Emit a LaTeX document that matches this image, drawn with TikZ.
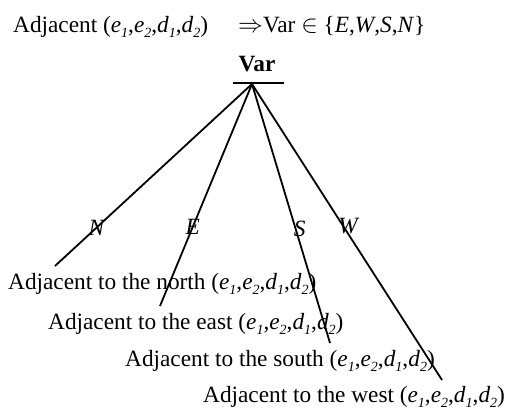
\documentclass[tikz,border=0pt]{standalone}
\usepackage{fontspec}
\setmainfont{Liberation Serif}
\newcommand{\dsub}[1]{\raisebox{-0.4ex}{\fontsize{14}{14}\selectfont\itshape #1}}
\newcommand{\edargs}{(\textit{e}\dsub{1},\textit{e}\dsub{2},\textit{d}\dsub{1},\textit{d}\dsub{2})}
\begin{document}
\begin{tikzpicture}[
  x=1pt, y=1pt,
  txt/.style={font=\fontsize{23.3}{26}\selectfont, inner sep=0pt},
  dirlabel/.style={font=\fontsize{23.3}{26}\selectfont\itshape, inner sep=0pt},
  branch/.style={line width=1.8pt}
]
  \useasboundingbox (0,0) rectangle (509,412);

  % Cabecera
  \node[txt, anchor=base west] (head) at (13,379) {Adjacent \edargs};
  \node[txt, anchor=base west] (vals) at (238,379) {$\Rightarrow$Var $\in$ \{\textit{E},\textit{W},\textit{S},\textit{N}\}};

  % Raiz
  \node[txt, font=\fontsize{23.3}{26}\selectfont\bfseries, anchor=base] (var) at (257,340) {Var};
  \coordinate (barl) at (233,329);
  \coordinate (barr) at (284,329);
  \draw[branch] (barl) -- (barr);
  \coordinate (apex) at (252,328);

  % Extremos de las ramas
  \coordinate (endN) at (55,146);
  \coordinate (endE) at (160,106);
  \coordinate (endS) at (330,69);
  \coordinate (endW) at (442,32);

  % Ramas con etiquetas
  \draw[branch] (apex) -- node[dirlabel, pos=0.79] {N} (endN);
  \draw[branch] (apex) -- node[dirlabel, pos=0.645] {E} (endE);
  \draw[branch] (apex) -- node[dirlabel, pos=0.56, xshift=4pt] {S} (endS);
  \draw[branch] (apex) -- node[dirlabel, pos=0.48, xshift=5pt] {W} (endW);

  % Hojas
  \node[txt, anchor=base west] (north) at (8,122) {Adjacent to the north \edargs};
  \node[txt, anchor=base west] (east) at (48,82) {Adjacent to the east \edargs};
  \node[txt, anchor=base west] (south) at (125,45) {Adjacent to the south \edargs};
  \node[txt, anchor=base west] (west) at (203,9) {Adjacent to the west \edargs};

\end{tikzpicture}
\end{document}
